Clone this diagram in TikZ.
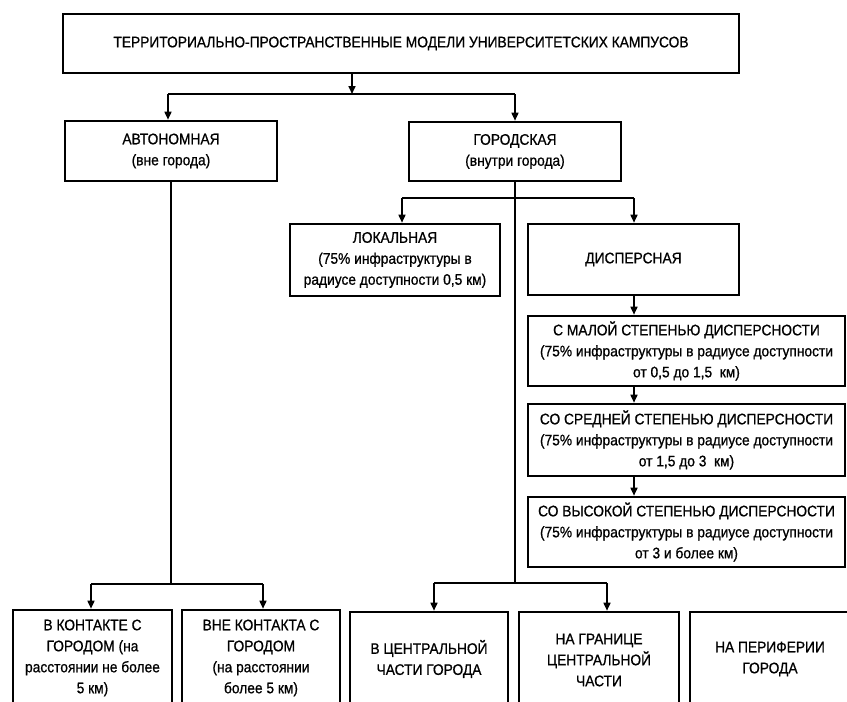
\documentclass[tikz,border=0pt]{standalone}
\usepackage{fontspec}
\setmainfont[FakeStretch=0.9,FakeBold=0.8]{Liberation Sans}
\usetikzlibrary{arrows.meta}
\begin{document}
\begin{tikzpicture}[x=1pt,y=-1pt,
  box/.style={draw,line width=2.6pt,rectangle,inner sep=0pt,align=center,
    font=\fontsize{15.3}{21}\selectfont},
  conn/.style={line width=2.4pt},
  vline/.style={line width=1.8pt},
  arr/.style={line width=1.6pt,-{Triangle[length=8pt,width=7pt]}}]
\useasboundingbox (0,0) rectangle (847,702);
\clip (0,0) rectangle (847,702);
% boxes
\node[box,minimum width=676pt,minimum height=59pt] (T) at (401,43.5)
  {ТЕРРИТОРИАЛЬНО-ПРОСТРАНСТВЕННЫЕ МОДЕЛИ УНИВЕРСИТЕТСКИХ КАМПУСОВ};
\node[box,minimum width=212pt,minimum height=60pt] (A) at (171,151)
  {АВТОНОМНАЯ\\(вне города)};
\node[box,minimum width=212pt,minimum height=59pt] (G) at (515,151.5)
  {ГОРОДСКАЯ\\(внутри города)};
\node[box,minimum width=210pt,minimum height=72pt] (L) at (395,260)
  {ЛОКАЛЬНАЯ\\(75\% инфраструктуры в\\радиусе доступности 0,5 км)};
\node[box,minimum width=211pt,minimum height=71pt] (D) at (633.5,259.5)
  {ДИСПЕРСНАЯ};
\node[box,minimum width=317pt,minimum height=70pt] (M1) at (686.5,351)
  {С МАЛОЙ СТЕПЕНЬЮ ДИСПЕРСНОСТИ\\(75\% инфраструктуры в радиусе доступности\\от 0,5 до 1,5~~км)};
\node[box,minimum width=317pt,minimum height=72pt] (M2) at (686.5,440)
  {СО СРЕДНЕЙ СТЕПЕНЬЮ ДИСПЕРСНОСТИ\\(75\% инфраструктуры в радиусе доступности\\от 1,5 до 3~~км)};
\node[box,minimum width=317pt,minimum height=70pt] (M3) at (686.5,532)
  {СО ВЫСОКОЙ СТЕПЕНЬЮ ДИСПЕРСНОСТИ\\(75\% инфраструктуры в радиусе доступности\\от 3 и более км)};
\node[box,minimum width=159pt,minimum height=96pt] (B1) at (92.5,658)
  {В КОНТАКТЕ С\\ГОРОДОМ (на\\расстоянии не более\\5 км)};
\node[box,minimum width=158pt,minimum height=96pt] (B2) at (261,658)
  {ВНЕ КОНТАКТА С\\ГОРОДОМ\\(на расстоянии\\более 5 км)};
\node[box,minimum width=158pt,minimum height=94pt] (B3) at (429,659)
  {В ЦЕНТРАЛЬНОЙ\\ЧАСТИ ГОРОДА};
\node[box,minimum width=160pt,minimum height=96pt] (B4) at (599,660)
  {НА ГРАНИЦЕ\\ЦЕНТРАЛЬНОЙ\\ЧАСТИ};
\node[box,minimum width=160pt,minimum height=94pt] (B5) at (770,659)
  {НА ПЕРИФЕРИИ\\ГОРОДА};
% junction coordinates
\coordinate (t0) at (352,73);
\coordinate (h1) at (352,94);
\coordinate (h1l) at (168,94);
\coordinate (h1r) at (515,94);
\coordinate (h2) at (515,198);
\coordinate (h2l) at (402,198);
\coordinate (h2r) at (634,198);
\coordinate (h3) at (515,583);
\coordinate (h3l) at (434,583);
\coordinate (h3r) at (607,583);
\coordinate (h4) at (171,584);
\coordinate (h4l) at (91,584);
\coordinate (h4r) at (263,584);
% connectors
\draw[arr] (t0) -- (h1);
\draw[conn] (h1l) -- (h1r);
\draw[arr] (h1l) -- (h1l |- A.north);
\draw[arr] (h1r) -- (h1r |- G.north);
\draw[conn] (G.south) -- (h2);
\draw[conn] (h2l) -- (h2r);
\draw[arr] (h2l) -- (h2l |- L.north);
\draw[arr] (h2r) -- (h2r |- D.north);
\draw[vline] (h2) -- (h3);
\draw[conn] (h3l) -- (h3r);
\draw[arr] (h3l) -- (h3l |- B3.north);
\draw[arr] (h3r) -- (h3r |- B4.north);
\draw[vline] (A.south) -- (h4);
\draw[conn] (h4l) -- (h4r);
\draw[arr] (h4l) -- (h4l |- B1.north);
\draw[arr] (h4r) -- (h4r |- B2.north);
\draw[arr] (D.south -| h2r) -- (M1.north -| h2r);
\draw[arr] (M1.south -| h2r) -- (M2.north -| h2r);
\draw[arr] (M2.south -| h2r) -- (M3.north -| h2r);
\end{tikzpicture}
\end{document}
